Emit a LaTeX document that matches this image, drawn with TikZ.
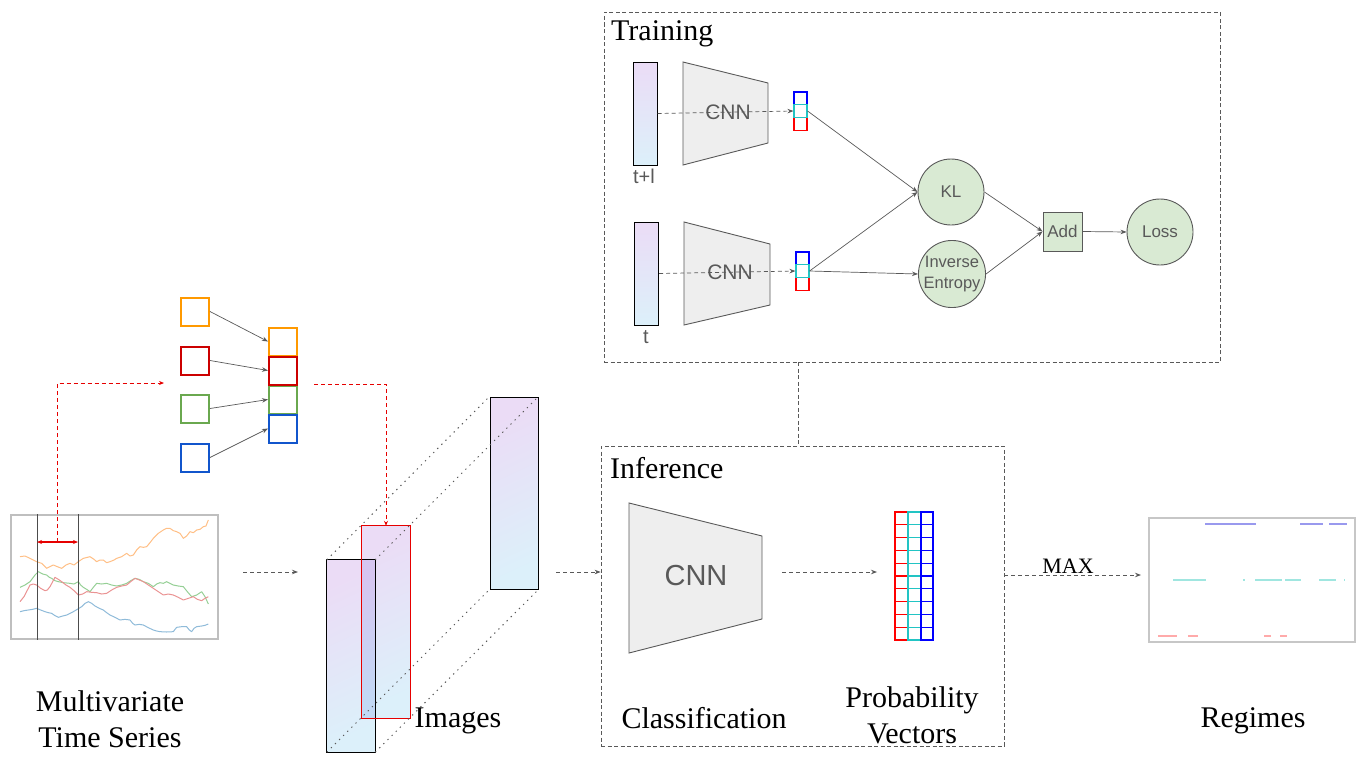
\documentclass[tikz,border=0pt]{standalone}
\usepackage{fontspec}
\setmainfont{Liberation Serif}
\setsansfont{Liberation Sans}
\usetikzlibrary{arrows.meta,calc}
\definecolor{gline}{HTML}{595959}
\definecolor{gtext}{HTML}{595959}
\definecolor{gfill}{HTML}{EEEEEE}
\definecolor{nfill}{HTML}{D9EAD3}
\definecolor{gorange}{HTML}{FF9900}
\definecolor{gred}{HTML}{CC0000}
\definecolor{ggreen}{HTML}{6AA84F}
\definecolor{gblue}{HTML}{1155CC}
\definecolor{imgtop}{HTML}{EBDCF6}
\definecolor{imgbot}{HTML}{DCF0FA}
\definecolor{ovtop}{HTML}{D6C5F0}
\definecolor{ovbot}{HTML}{C2D8F4}
\definecolor{vred}{HTML}{FF0000}
\definecolor{vcyan}{HTML}{22C4C4}
\definecolor{vblue}{HTML}{0000FF}
\definecolor{tsorange}{HTML}{FFBF86}
\definecolor{tsgreen}{HTML}{95CF95}
\definecolor{tsred}{HTML}{EA9393}
\definecolor{tsblue}{HTML}{8FBBD9}
\definecolor{regblue}{HTML}{9999EE}
\definecolor{regcyan}{HTML}{A0E6E0}
\definecolor{regred}{HTML}{FFAAAA}
\definecolor{redarr}{HTML}{E60000}
\tikzset{
 arr/.style={draw=gline, line width=0.8pt, -{Stealth[length=6pt,width=4.5pt]}},
 darr/.style={arr, dash pattern=on 4pt off 3pt},
 dframe/.style={rectangle, draw=gline, line width=0.8pt, dash pattern=on 4pt off 2.5pt, inner sep=0},
 sqbox/.style={rectangle, draw, line width=2pt, minimum size=28pt, inner sep=0},
 stripbox/.style={rectangle, draw=black, line width=1pt, top color=imgtop, bottom color=imgbot, minimum width=24pt, minimum height=103pt, inner sep=0},
 imgbox/.style={rectangle, top color=imgtop, bottom color=imgbot, shading angle=25, minimum width=48pt, minimum height=192pt, inner sep=0},
 cell/.style={rectangle, draw, line width=1.1pt, minimum width=13pt, minimum height=12.7pt, inner sep=0},
 gnode/.style={circle, draw=gline, fill=nfill, line width=0.9pt, minimum size=66pt, inner sep=0, font=\sffamily\fontsize{17}{21}\selectfont, text=gtext, align=center},
 lab/.style={font=\fontsize{30}{36}\selectfont, align=center, inner sep=0},
 cnnshape/.style={draw=gline, fill=gfill, line width=0.9pt},
 stext/.style={font=\sffamily\fontsize{20}{24}\selectfont, text=gtext, inner sep=0},
 dotl/.style={draw=gline, line width=1pt, dash pattern=on 1.3pt off 4.5pt},
 redd/.style={draw=redarr, line width=1pt, dash pattern=on 4pt off 3pt},
 tsl/.style={line width=1pt, line join=round},
 regl/.style={line width=2pt},
}
\begin{document}
\begin{tikzpicture}[x=1pt,y=-1pt]
\useasboundingbox (0,0) rectangle (1365,758);

% ---------------- time series ----------------
\node[rectangle, draw=black!25, line width=1.2pt, minimum width=207pt, minimum height=124pt, inner sep=0] (ts) at (114.5,577) {};
\begin{scope}[shift={(0,500)}, x=0.33333pt, y=-0.33333pt]
\draw[tsl, tsorange] (60,170)--(75,168)--(90,175)--(110,185)--(125,190)--(140,205)--(150,200)--(160,195)--(172,200)--(185,205)--(198,195)--(210,190)--(222,195)--(235,185)--(250,175)--(262,172)--(270,170)--(282,178)--(290,185)--(300,180)--(310,180)--(320,188)--(330,185)--(342,180)--(350,175)--(365,170)--(380,160)--(390,168)--(400,165)--(410,150)--(420,140)--(430,142)--(440,140)--(450,128)--(460,115)--(475,100)--(490,90)--(500,85)--(510,85)--(520,92)--(530,95)--(540,100)--(550,115)--(560,108)--(570,95)--(580,98)--(590,90)--(600,88)--(610,80)--(618,78)--(625,60);
\draw[tsl, tsgreen] (60,262)--(75,255)--(90,245)--(105,225)--(115,215)--(128,222)--(140,225)--(148,232)--(155,235)--(165,242)--(175,245)--(190,248)--(210,250)--(222,252)--(235,245)--(242,255)--(250,262)--(260,268)--(270,275)--(280,262)--(290,250)--(305,252)--(320,250)--(335,255)--(350,258)--(365,255)--(380,250)--(392,242)--(405,235)--(418,238)--(430,245)--(445,250)--(460,260)--(470,252)--(480,248)--(490,250)--(500,245)--(510,250)--(520,255)--(535,258)--(550,260)--(562,275)--(575,290)--(590,285)--(605,275)--(615,290)--(625,312);
\draw[tsl, tsred] (60,305)--(72,290)--(90,255)--(100,252)--(110,255)--(122,265)--(135,272)--(142,270)--(150,260)--(158,245)--(165,232)--(175,238)--(185,245)--(198,255)--(210,262)--(222,272)--(235,285)--(248,282)--(260,275)--(275,277)--(290,278)--(305,282)--(320,280)--(335,270)--(350,262)--(365,258)--(380,255)--(392,245)--(405,235)--(418,240)--(430,245)--(445,255)--(460,265)--(475,275)--(490,285)--(505,282)--(520,285)--(535,292)--(550,300)--(565,295)--(580,290)--(592,298)--(605,302)--(615,295)--(625,290);
\draw[tsl, tsblue] (60,335)--(72,332)--(85,330)--(98,328)--(110,325)--(122,330)--(135,335)--(145,338)--(155,340)--(165,347)--(175,352)--(188,348)--(200,345)--(210,340)--(220,335)--(232,328)--(245,320)--(255,310)--(265,305)--(275,310)--(285,318)--(298,325)--(310,330)--(320,338)--(330,345)--(345,352)--(360,360)--(375,358)--(390,360)--(398,370)--(405,375)--(418,373)--(430,375)--(445,383)--(460,390)--(470,393)--(480,395)--(500,396)--(520,395)--(525,388)--(530,382)--(545,380)--(560,380)--(568,390)--(575,395)--(582,385)--(590,380)--(605,378)--(615,376)--(625,372);
\end{scope}
\coordinate (w1) at (37,577);
\coordinate (w2) at (78,577);
\draw[draw=black!70, line width=0.9pt] (ts.north -| w1) -- (ts.south -| w1);
\draw[draw=black!70, line width=0.9pt] (ts.north -| w2) -- (ts.south -| w2);
\coordinate (wl) at (37,542);
\coordinate (wr) at (78,542);
\coordinate (wm) at (57.5,542);
\draw[draw=redarr, line width=1.1pt, {Stealth[length=5pt,width=4pt]}-{Stealth[length=5pt,width=4pt]}] (wl) -- (wr);
\node[lab] (tslab) at (110,719) {Multivariate\\Time Series};

% ---------------- squares ----------------
\node[sqbox, draw=gorange] (sO) at (195,311.5) {};
\node[sqbox, draw=gred]    (sR) at (195,360.5) {};
\node[sqbox, draw=ggreen]  (sG) at (195,408.5) {};
\node[sqbox, draw=gblue]   (sB) at (195,457.5) {};
\node[sqbox, draw=gorange] (cO) at (283,341.5) {};
\node[sqbox, draw=ggreen]  (cG) at (283,399.5) {};
\node[sqbox, draw=gblue]   (cB) at (283,428.5) {};
\node[sqbox, draw=gred]    (cR) at (283,370.5) {};
\draw[arr, line width=0.7pt] (sO.east) -- (cO.west);
\draw[arr, line width=0.7pt] (sR.east) -- (cR.west);
\draw[arr, line width=0.7pt] (sG.east) -- (cG.west);
\draw[arr, line width=0.7pt] (sB.east) -- (cB.west);
\coordinate (r1end) at (164,383);
\draw[redd, -{Stealth[length=5pt,width=4pt]}] (wm) |- (r1end);

% ---------------- images ----------------
\node[imgbox] (imgA) at (351,656) {};
\node[imgbox] (imgB) at (386,622) {};
\node[imgbox, draw=black, line width=1pt] (imgC) at (514,493) {};
\shade[top color=ovtop, bottom color=ovbot, shading angle=25] (imgB.west |- imgA.north) rectangle (imgA.east |- imgB.south);
\draw[black, line width=1pt] (imgA.south west) rectangle (imgA.north east);
\draw[redarr, line width=1.1pt] (imgB.south west) rectangle (imgB.north east);
\draw[dotl] (imgA.north west) -- (imgC.north west);
\draw[dotl] (imgA.north east) -- (imgC.north east);
\draw[dotl] (imgA.south west) -- (imgC.south west);
\draw[dotl] (imgA.south east) -- (imgC.south east);
\coordinate (r2start) at (314,384);
\draw[redd, -{Stealth[length=5pt,width=4pt]}] (r2start) -| (imgB.north);
\node[lab] (imglab) at (458,721) {Images};
\coordinate (a1s) at (243,572);
\coordinate (a1e) at (298,572);
\draw[darr] (a1s) -- (a1e);

% ---------------- training ----------------
\node[dframe, minimum width=616pt, minimum height=350pt] (train) at (912,187) {};
\node[lab, anchor=west] (trainlab) at (611,34) {Training};
\node[stripbox] (s1) at (645,113.5) {};
\node[stripbox] (s2) at (646.5,273.5) {};
\node[stext] (s1lab) at (644,176) {t+l};
\node[stext] (s2lab) at (646,337) {t};
\draw[cnnshape] (683,62) -- (768,83) -- (768,143) -- (683,165) -- cycle;
\draw[cnnshape] (684,222) -- (770,244) -- (770,305) -- (684,325) -- cycle;
\node[stext, font=\sffamily\fontsize{21}{24}\selectfont] (cnn1) at (728,112) {CNN};
\node[stext, font=\sffamily\fontsize{21}{24}\selectfont] (cnn2) at (730,272) {CNN};
\node[cell, draw=vblue] (v1b) at (800.5,98.3) {};
\node[cell, draw=vred]  (v1r) at (800.5,123.7) {};
\node[cell, draw=vcyan] (v1c) at (800.5,111) {};
\node[cell, draw=vblue] (v2b) at (802.5,258.3) {};
\node[cell, draw=vred]  (v2r) at (802.5,283.7) {};
\node[cell, draw=vcyan] (v2c) at (802.5,271) {};
\draw[darr, line width=0.7pt] (s1.east) -- (v1c.west);
\draw[darr, line width=0.7pt] (s2.east) -- (v2c.west);
\node[gnode] (kl) at (951,192) {KL};
\node[gnode, font=\sffamily\fontsize{16.5}{21}\selectfont] (ie) at (952,274) {Inverse\\Entropy};
\node[rectangle, draw=gline, fill=nfill, line width=0.9pt, minimum size=39pt, inner sep=0, font=\sffamily\fontsize{17}{21}\selectfont, text=gtext] (add) at (1062.5,231.5) {Add};
\node[gnode] (loss) at (1160,232) {Loss};
\draw[arr, line width=0.7pt] (v1c.east) -- (kl.west);
\draw[arr, line width=0.7pt] (v2c.east) -- (kl.west);
\draw[arr, line width=0.7pt] (v2c.east) -- (ie.west);
\draw[arr, line width=0.7pt] (kl.east) -- (add.west);
\draw[arr, line width=0.7pt] (ie.east) -- (add.west);
\draw[arr, line width=0.7pt] (add.east) -- (loss.west);

% ---------------- inference ----------------
\node[dframe, minimum width=403pt, minimum height=300pt] (inf) at (802.5,596) {};
\node[lab, anchor=west] (inflab) at (610,468) {Inference};
\coordinate (tc) at (798,400);
\draw[draw=gline, line width=0.8pt, dash pattern=on 4pt off 2.5pt] (train.south -| tc) -- (inf.north -| tc);
\coordinate (a2s) at (556,572);
\draw[darr] (a2s) -- (inf.west |- a2s);
\draw[cnnshape] (629,503) -- (762,536) -- (762,619) -- (629,653) -- cycle;
\node[stext, font=\sffamily\fontsize{29}{32}\selectfont] (cnn3) at (696,576) {CNN};
\coordinate (a3s) at (782,572);
\coordinate (a3e) at (877,572);
\draw[darr] (a3s) -- (a3e);
\foreach \i in {0,...,9} {
  \draw[vred, line width=1.2pt] (895,512+\i*12.8) rectangle ++(13,12.8);
}
\foreach \i in {0,...,9} {
  \draw[vcyan, line width=1.2pt] (908,512+\i*12.8) rectangle ++(13,12.8);
}
\foreach \i in {0,...,9} {
  \draw[vblue, line width=1.2pt] (921,512+\i*12.8) rectangle ++(12,12.8);
}
\node[lab] (clslab) at (704,718) {Classification};
\node[lab] (problab) at (912,715) {Probability\\Vectors};

% ---------------- regimes ----------------
\node[rectangle, draw=black!22, line width=1.3pt, minimum width=206pt, minimum height=124pt, inner sep=0] (reg) at (1252,580) {};
\coordinate (mxy) at (900,575);
\coordinate (mxe) at (1141,575);
\draw[darr] (inf.east |- mxy) -- (mxe);
\node[font=\fontsize{22}{26}\selectfont, inner sep=0] (maxlab) at (1068,566) {MAX};
\draw[regl, regblue] (1205,524) -- (1256,524);
\draw[regl, regblue] (1300,524) -- (1323,524);
\draw[regl, regblue] (1329,524) -- (1347,524);
\draw[regl, regcyan] (1173,580) -- (1206,580);
\draw[regl, regcyan] (1243,580) -- (1244.5,580);
\draw[regl, regcyan] (1255,580) -- (1282,580);
\draw[regl, regcyan] (1285,580) -- (1301,580);
\draw[regl, regcyan] (1319,580) -- (1336,580);
\draw[regl, regcyan] (1344,580) -- (1345,580);
\draw[regl, regred] (1158,636) -- (1177,636);
\draw[regl, regred] (1188,636) -- (1198,636);
\draw[regl, regred] (1264,636) -- (1271,636);
\draw[regl, regred] (1280,636) -- (1287,636);
\node[lab] (reglab) at (1253,721) {Regimes};
\end{tikzpicture}
\end{document}
